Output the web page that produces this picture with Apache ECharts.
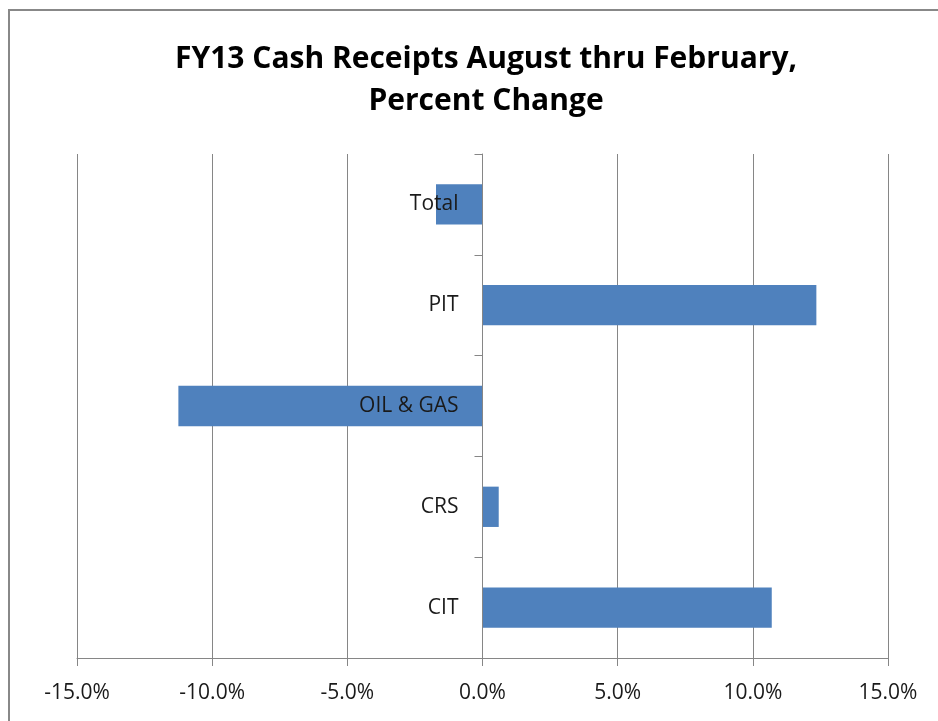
<!DOCTYPE html>
<html>
<head>
<meta charset="utf-8">
<script src="https://cdn.jsdelivr.net/npm/echarts@6/dist/echarts.min.js"></script>
<style>
  html, body { margin: 0; padding: 0; background: #fff; }
  #chart { width: 938px; height: 721px; }
</style>
</head>
<body>
<div id="chart"></div>
<script>
  // categories bottom to top, like the excel chart
  var categories = ['CIT', 'CRS', 'OIL & GAS', 'PIT', 'Total'];
  var pctChange = [10.7, 0.6, -11.25, 12.35, -1.72];
  var xTicks = { min: -15, max: 15, step: 5 };

  var myChart = echarts.init(document.getElementById('chart'));
  var font = '"Open Sans", Lato, sans-serif';
  var gridLeft = 77;
  var option = {
    animation: false,
    title: {
      text: 'FY13 Cash Receipts August thru February,\nPercent Change',
      left: 481,
      textAlign: 'center',
      top: 33,
      textStyle: {
        fontFamily: font,
        fontWeight: 'bold',
        fontSize: 30,
        lineHeight: 42,
        color: '#000'
      }
    },
    graphic: [{
      // outer chart frame
      type: 'rect',
      shape: { x: 9, y: 10, width: 1000, height: 800 },
      style: { fill: 'none', stroke: '#888888', lineWidth: 2 },
      silent: true
    }],
    grid: { left: gridLeft, right: 50, top: 154, bottom: 63, containLabel: false, outerBoundsMode: 'none' },
    xAxis: {
      type: 'value',
      min: xTicks.min,
      max: xTicks.max,
      interval: xTicks.step,
      axisLine: { show: true, lineStyle: { color: '#868686', width: 1 } },
      axisTick: { show: true, length: 8, lineStyle: { color: '#868686' } },
      splitLine: { show: true, lineStyle: { color: '#868686', width: 1 } },
      axisLabel: {
        margin: 25,
        fontFamily: font,
        fontSize: 21,
        color: '#1a1a1a',
        formatter: function (v) { return v.toFixed(1) + '%'; }
      }
    },
    yAxis: {
      type: 'category',
      data: categories,
      axisLine: { show: true, onZero: false, lineStyle: { color: '#868686', width: 1 } },
      axisTick: { show: true, length: 8, lineStyle: { color: '#868686' } },
      splitLine: { show: false },
      axisLabel: {
        margin: 24,
        fontFamily: font,
        fontSize: 21,
        color: '#1a1a1a'
      },
      z: 10
    },
    series: [{
      type: 'bar',
      data: pctChange,
      barCategoryGap: '60%',
      itemStyle: { color: '#4f81bd' },
      z: 2
    }]
  };
  myChart.setOption(option);

  // move the category axis (line, ticks and labels) onto the 0% line
  var zeroX = myChart.convertToPixel({ xAxisIndex: 0 }, 0);
  myChart.setOption({ yAxis: { offset: gridLeft - zeroX } });
</script>
</body>
</html>
